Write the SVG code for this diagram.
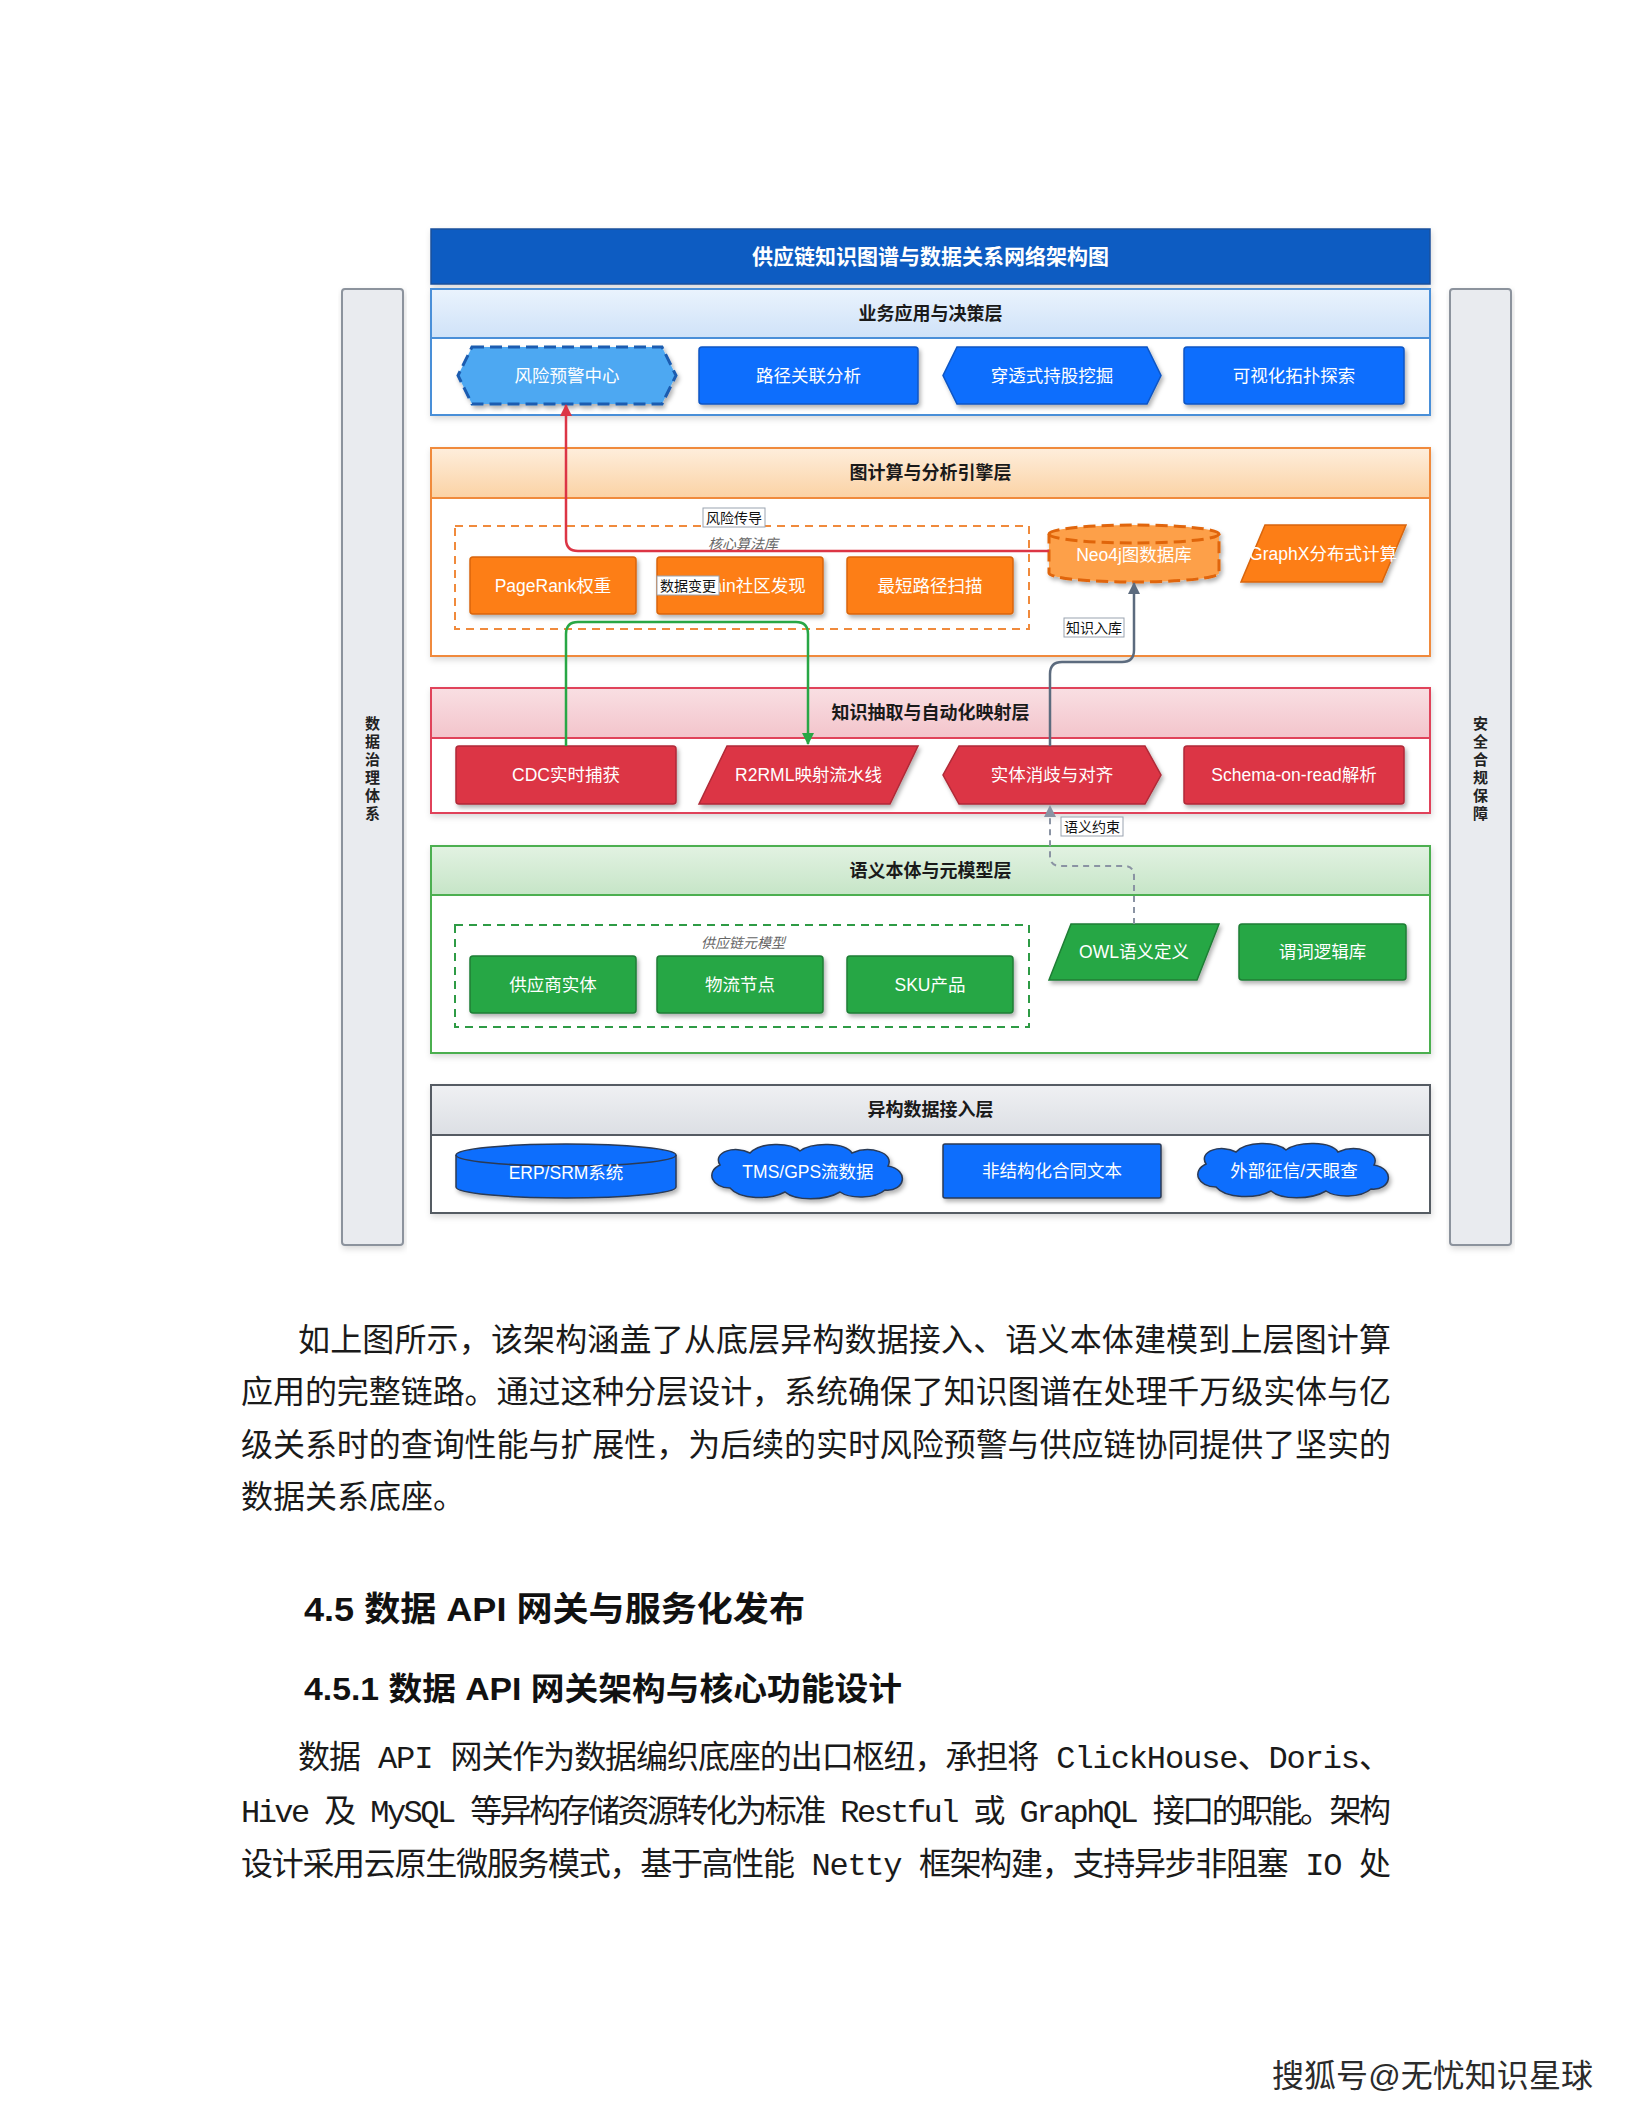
<svg xmlns="http://www.w3.org/2000/svg" width="1632" height="2112" viewBox="0 0 1632 2112">
<style>
.d{font-family:"Liberation Sans","Noto Sans CJK SC",sans-serif}
.nt{font-family:"Liberation Sans","Noto Sans CJK SC",sans-serif;font-size:17.5px;fill:#fff;text-anchor:middle;dominant-baseline:central}
.ht{font-family:"Liberation Sans","Noto Sans CJK SC",sans-serif;font-size:18px;font-weight:bold;fill:#1a1a1a;text-anchor:middle;dominant-baseline:central}
.lt{font-family:"Liberation Sans","Noto Sans CJK SC",sans-serif;font-size:14px;fill:#111;text-anchor:middle;dominant-baseline:central}
.gl{font-family:"Liberation Sans","Noto Sans CJK SC",sans-serif;font-size:14px;font-style:italic;fill:#666;text-anchor:middle;dominant-baseline:central}
.lb{fill:#fff;stroke:#9aa3b0;stroke-width:1}
.body{font-family:"Liberation Serif","Noto Sans CJK SC",serif;font-size:32px;fill:#1a1a1a}
.mono{font-family:"Liberation Mono","Noto Sans CJK SC",monospace;font-size:32px;fill:#1a1a1a}
.hd{font-family:"Liberation Sans","Noto Sans CJK SC",sans-serif;font-weight:bold;fill:#111}
.blue{fill:#0d6efd;stroke:#0b55c4;stroke-width:1.5}
.orange{fill:#fd7e14;stroke:#d9650a;stroke-width:1.5}
.red{fill:#dc3545;stroke:#b02a37;stroke-width:1.5}
.green{fill:#28a745;stroke:#1e7e34;stroke-width:1.5}
.side{fill:#e9ebef;stroke:#8c939d;stroke-width:2}
</style>
<defs>
<filter id="sh" x="-10%" y="-20%" width="130%" height="160%">
<feDropShadow dx="2" dy="3" stdDeviation="2" flood-color="#000" flood-opacity="0.3"/>
</filter>
<filter id="lsh" x="-5%" y="-10%" width="110%" height="130%">
<feDropShadow dx="1" dy="3" stdDeviation="3" flood-color="#000" flood-opacity="0.15"/>
</filter>
<linearGradient id="g1" x1="0" y1="0" x2="0" y2="1"><stop offset="0" stop-color="#eaf3fd"/><stop offset="1" stop-color="#cfe2f8"/></linearGradient>
<linearGradient id="g2" x1="0" y1="0" x2="0" y2="1"><stop offset="0" stop-color="#feeedc"/><stop offset="1" stop-color="#fbd2a4"/></linearGradient>
<linearGradient id="g3" x1="0" y1="0" x2="0" y2="1"><stop offset="0" stop-color="#f9dfe3"/><stop offset="1" stop-color="#f3c4cb"/></linearGradient>
<linearGradient id="g4" x1="0" y1="0" x2="0" y2="1"><stop offset="0" stop-color="#e2f2e2"/><stop offset="1" stop-color="#c6e5c7"/></linearGradient>
<linearGradient id="g5" x1="0" y1="0" x2="0" y2="1"><stop offset="0" stop-color="#eff0f3"/><stop offset="1" stop-color="#dcdfe4"/></linearGradient>
<path id="cloud" d="M-78,16 C-96,16 -103,0 -88,-7 C-96,-20 -73,-27 -58,-19 C-48,-30 -18,-30 -8,-21 C4,-30 37,-30 44,-19 C62,-27 87,-19 80,-6 C102,-2 97,20 77,18 C67,27 42,27 32,20 C17,29 -13,29 -23,20 C-38,28 -68,28 -78,16 Z"/>
<marker id="ar" viewBox="0 0 12 12" markerWidth="12" markerHeight="12" refX="11" refY="6" orient="auto" markerUnits="userSpaceOnUse"><path d="M0,0 L12,6 L0,12 Z" fill="#dc3545"/></marker>
<marker id="ag" viewBox="0 0 12 12" markerWidth="12" markerHeight="12" refX="11" refY="6" orient="auto" markerUnits="userSpaceOnUse"><path d="M0,0 L12,6 L0,12 Z" fill="#28a745"/></marker>
<marker id="ay" viewBox="0 0 12 12" markerWidth="12" markerHeight="12" refX="11" refY="6" orient="auto" markerUnits="userSpaceOnUse"><path d="M0,0 L12,6 L0,12 Z" fill="#5c6b7e"/></marker>
<marker id="ad" viewBox="0 0 12 12" markerWidth="12" markerHeight="12" refX="11" refY="6" orient="auto" markerUnits="userSpaceOnUse"><path d="M0,0 L12,6 L0,12 Z" fill="#8a93a3"/></marker>
</defs>
<rect width="1632" height="2112" fill="#fff"/>

<!-- side bars -->
<g id="side-governance">
<rect class="side" x="342" y="289" width="61" height="956" rx="3" filter="url(#lsh)"/>
<text class="d" x="372.5" font-size="15" font-weight="bold" fill="#222" text-anchor="middle">
<tspan x="372.5" y="729">数</tspan><tspan x="372.5" y="747">据</tspan><tspan x="372.5" y="765">治</tspan><tspan x="372.5" y="783">理</tspan><tspan x="372.5" y="801">体</tspan><tspan x="372.5" y="819">系</tspan>
</text>
</g>
<g id="side-security">
<rect class="side" x="1450" y="289" width="61" height="956" rx="3" filter="url(#lsh)"/>
<text class="d" x="1480.5" font-size="15" font-weight="bold" fill="#222" text-anchor="middle">
<tspan x="1480.5" y="729">安</tspan><tspan x="1480.5" y="747">全</tspan><tspan x="1480.5" y="765">合</tspan><tspan x="1480.5" y="783">规</tspan><tspan x="1480.5" y="801">保</tspan><tspan x="1480.5" y="819">障</tspan>
</text>
</g>

<!-- title -->
<g id="title">
<rect x="431" y="229" width="999" height="55" fill="#0b5cc2" stroke="#1a4f9c" stroke-width="1.5" filter="url(#lsh)"/>
<text class="d" x="930.5" y="256.5" font-size="21" font-weight="bold" fill="#fff" text-anchor="middle" dominant-baseline="central">供应链知识图谱与数据关系网络架构图</text>
</g>

<!-- layer 1 -->
<g id="layer-app">
<rect x="431" y="289" width="999" height="126" fill="#fff" stroke="#4a8fd8" stroke-width="2" filter="url(#lsh)"/>
<rect x="431" y="289" width="999" height="49" fill="url(#g1)" stroke="#4a8fd8" stroke-width="2"/>
<text class="ht" x="930.5" y="313.5">业务应用与决策层</text>
</g>
<g id="n-risk">
<polygon points="472,347 662,347 676,375.5 662,404 472,404 458,375.5" fill="#4da8f2" stroke="#1a5cb0" stroke-width="3" stroke-dasharray="12,6" filter="url(#sh)"/>
<text class="nt" x="567" y="375.5">风险预警中心</text>
</g>
<g id="n-path">
<rect class="blue" x="699" y="347" width="219" height="57" rx="3" filter="url(#sh)"/>
<text class="nt" x="808.5" y="375.5">路径关联分析</text>
</g>
<g id="n-equity">
<polygon class="blue" points="957,347 1147,347 1161,375.5 1147,404 957,404 943,375.5" filter="url(#sh)"/>
<text class="nt" x="1052" y="375.5">穿透式持股挖掘</text>
</g>
<g id="n-visual">
<rect class="blue" x="1184" y="347" width="220" height="57" rx="3" filter="url(#sh)"/>
<text class="nt" x="1294" y="375.5">可视化拓扑探索</text>
</g>

<!-- layer 2 -->
<g id="layer-engine">
<rect x="431" y="448" width="999" height="208" fill="#fff" stroke="#f08a3c" stroke-width="2" filter="url(#lsh)"/>
<rect x="431" y="448" width="999" height="50" fill="url(#g2)" stroke="#f08a3c" stroke-width="2"/>
<text class="ht" x="930.5" y="473">图计算与分析引擎层</text>
</g>
<g id="grp-algo">
<rect x="455" y="526" width="574" height="103" fill="none" stroke="#f08a3c" stroke-width="2" stroke-dasharray="8,6"/>
<text class="gl" x="743" y="544">核心算法库</text>
</g>
<g id="n-pagerank">
<rect class="orange" x="470" y="557" width="166" height="57" rx="3" filter="url(#sh)"/>
<text class="nt" x="553" y="585.5">PageRank权重</text>
</g>
<g id="n-louvain">
<rect class="orange" x="657" y="557" width="166" height="57" rx="3" filter="url(#sh)"/>
<text class="nt" x="740" y="585.5">Louvain社区发现</text>
</g>
<g id="n-shortest">
<rect class="orange" x="847" y="557" width="166" height="57" rx="3" filter="url(#sh)"/>
<text class="nt" x="930" y="585.5">最短路径扫描</text>
</g>
<g id="n-neo4j">
<path d="M1049,534 A85,9 0 0 1 1219,534 L1219,573 A85,9 0 0 1 1049,573 Z" fill="#fda04a" stroke="#e0650a" stroke-width="3" stroke-dasharray="12,6" filter="url(#sh)"/>
<path d="M1049,534 A85,9 0 0 0 1219,534" fill="none" stroke="#e0650a" stroke-width="3" stroke-dasharray="12,6"/>
<text class="nt" x="1134" y="555">Neo4j图数据库</text>
</g>
<g id="n-graphx">
<polygon class="orange" points="1265,525 1406,525 1382,582 1241,582" filter="url(#sh)"/>
<text class="nt" x="1323" y="553.5">GraphX分布式计算</text>
</g>

<!-- layer 3 -->
<g id="layer-extract">
<rect x="431" y="688" width="999" height="125" fill="#fff" stroke="#e0435a" stroke-width="2" filter="url(#lsh)"/>
<rect x="431" y="688" width="999" height="50" fill="url(#g3)" stroke="#e0435a" stroke-width="2"/>
<text class="ht" x="930.5" y="713">知识抽取与自动化映射层</text>
</g>
<g id="n-cdc">
<rect class="red" x="456" y="746" width="220" height="58" rx="3" filter="url(#sh)"/>
<text class="nt" x="566" y="775">CDC实时捕获</text>
</g>
<g id="n-r2rml">
<polygon class="red" points="727,746 918,746 890,804 699,804" filter="url(#sh)"/>
<text class="nt" x="808.5" y="775">R2RML映射流水线</text>
</g>
<g id="n-entity">
<polygon class="red" points="959,746 1145,746 1161,775 1145,804 959,804 943,775" filter="url(#sh)"/>
<text class="nt" x="1052" y="775">实体消歧与对齐</text>
</g>
<g id="n-schema">
<rect class="red" x="1184" y="746" width="220" height="58" rx="3" filter="url(#sh)"/>
<text class="nt" x="1294" y="775">Schema-on-read解析</text>
</g>

<!-- layer 4 -->
<g id="layer-ontology">
<rect x="431" y="846" width="999" height="207" fill="#fff" stroke="#4caf50" stroke-width="2" filter="url(#lsh)"/>
<rect x="431" y="846" width="999" height="49" fill="url(#g4)" stroke="#4caf50" stroke-width="2"/>
<text class="ht" x="930.5" y="870.5">语义本体与元模型层</text>
</g>
<g id="grp-meta">
<rect x="455" y="925" width="574" height="102" fill="none" stroke="#2e9b45" stroke-width="2" stroke-dasharray="8,6"/>
<text class="gl" x="743" y="943">供应链元模型</text>
</g>
<g id="n-supplier">
<rect class="green" x="470" y="956" width="166" height="57" rx="3" filter="url(#sh)"/>
<text class="nt" x="553" y="984.5">供应商实体</text>
</g>
<g id="n-logistics">
<rect class="green" x="657" y="956" width="166" height="57" rx="3" filter="url(#sh)"/>
<text class="nt" x="740" y="984.5">物流节点</text>
</g>
<g id="n-sku">
<rect class="green" x="847" y="956" width="166" height="57" rx="3" filter="url(#sh)"/>
<text class="nt" x="930" y="984.5">SKU产品</text>
</g>
<g id="n-owl">
<polygon class="green" points="1071,924 1219,924 1197,980 1049,980" filter="url(#sh)"/>
<text class="nt" x="1134" y="952">OWL语义定义</text>
</g>
<g id="n-predicate">
<rect class="green" x="1239" y="924" width="167" height="56" rx="3" filter="url(#sh)"/>
<text class="nt" x="1322.5" y="952">谓词逻辑库</text>
</g>

<!-- layer 5 -->
<g id="layer-ingest">
<rect x="431" y="1085" width="999" height="128" fill="#fff" stroke="#555b63" stroke-width="2" filter="url(#lsh)"/>
<rect x="431" y="1085" width="999" height="50" fill="url(#g5)" stroke="#555b63" stroke-width="2"/>
<text class="ht" x="930.5" y="1110">异构数据接入层</text>
</g>
<g id="n-erp">
<path d="M456,1155 A110,11 0 0 1 676,1155 L676,1187 A110,11 0 0 1 456,1187 Z" fill="#0d6efd" stroke="#2b3a55" stroke-width="1.5" filter="url(#sh)"/>
<path d="M456,1155 A110,11 0 0 0 676,1155" fill="none" stroke="#2b3a55" stroke-width="1.5"/>
<text class="nt" x="566" y="1173">ERP/SRM系统</text>
</g>
<g id="n-tms">
<use href="#cloud" transform="translate(808,1172)" fill="#0d6efd" stroke="#2b3a55" stroke-width="1.5" filter="url(#sh)"/>
<text class="nt" x="808" y="1172">TMS/GPS流数据</text>
</g>
<g id="n-contract">
<rect x="943" y="1144" width="218" height="54" fill="#0d6efd" stroke="#2b3a55" stroke-width="1.5" rx="2" filter="url(#sh)"/>
<text class="nt" x="1052" y="1171">非结构化合同文本</text>
</g>
<g id="n-credit">
<use href="#cloud" transform="translate(1294,1171)" fill="#0d6efd" stroke="#2b3a55" stroke-width="1.5" filter="url(#sh)"/>
<text class="nt" x="1294" y="1171">外部征信/天眼查</text>
</g>

<!-- connectors -->
<g id="connectors" fill="none">
<path d="M1049,551 L578,551 Q566,551 566,539 L566,405" stroke="#dc3545" stroke-width="2.5" marker-end="url(#ar)"/>
<path d="M566,746 L566,634 Q566,622 578,622 L796,622 Q808,622 808,634 L808,744" stroke="#28a745" stroke-width="2.5" marker-end="url(#ag)"/>
<path d="M1050,746 L1050,674 Q1050,662 1062,662 L1122,662 Q1134,662 1134,650 L1134,583" stroke="#5c6b7e" stroke-width="2.5" marker-end="url(#ay)"/>
<path d="M1134,924 L1134,876 Q1134,866 1124,866 L1060,866 Q1050,866 1050,856 L1050,806" stroke="#8a93a3" stroke-width="2" stroke-dasharray="6,5" marker-end="url(#ad)"/>
<rect class="lb" x="703" y="508" width="62" height="19"/>
<text class="lt" x="734" y="517.5">风险传导</text>
<rect class="lb" x="657" y="576" width="62" height="19"/>
<text class="lt" x="688" y="585.5">数据变更</text>
<rect class="lb" x="1064" y="618" width="60" height="19"/>
<text class="lt" x="1094" y="627.5">知识入库</text>
<rect class="lb" x="1061" y="817" width="62" height="19"/>
<text class="lt" x="1092" y="826.5">语义约束</text>
</g>

<!-- body text -->
<g id="text-body">
<text class="body" x="298" y="1351" textLength="1093" lengthAdjust="spacing">如上图所示，该架构涵盖了从底层异构数据接入、语义本体建模到上层图计算</text>
<text class="body" x="241" y="1403" textLength="1150" lengthAdjust="spacing">应用的完整链路。通过这种分层设计，系统确保了知识图谱在处理千万级实体与亿</text>
<text class="body" x="241" y="1456" textLength="1150" lengthAdjust="spacing">级关系时的查询性能与扩展性，为后续的实时风险预警与供应链协同提供了坚实的</text>
<text class="body" x="241" y="1508">数据关系底座。</text>
<text class="hd" x="304" y="1621" font-size="34" textLength="501" lengthAdjust="spacingAndGlyphs">4.5 数据 API 网关与服务化发布</text>
<text class="hd" x="304" y="1700" font-size="32" textLength="598" lengthAdjust="spacingAndGlyphs">4.5.1 数据 API 网关架构与核心功能设计</text>
<text class="mono" x="298" y="1768" textLength="1093" lengthAdjust="spacing">数据 API 网关作为数据编织底座的出口枢纽，承担将 ClickHouse、Doris、</text>
<text class="mono" x="241" y="1822" textLength="1150" lengthAdjust="spacing">Hive 及 MySQL 等异构存储资源转化为标准 Restful 或 GraphQL 接口的职能。架构</text>
<text class="mono" x="241" y="1875" textLength="1150" lengthAdjust="spacing">设计采用云原生微服务模式，基于高性能 Netty 框架构建，支持异步非阻塞 IO 处</text>
</g>
<g id="footer">
<text class="d" x="1272" y="2087" font-size="32" fill="#2b2b2b" textLength="321" lengthAdjust="spacing">搜狐号@无忧知识星球</text>
</g>
</svg>
